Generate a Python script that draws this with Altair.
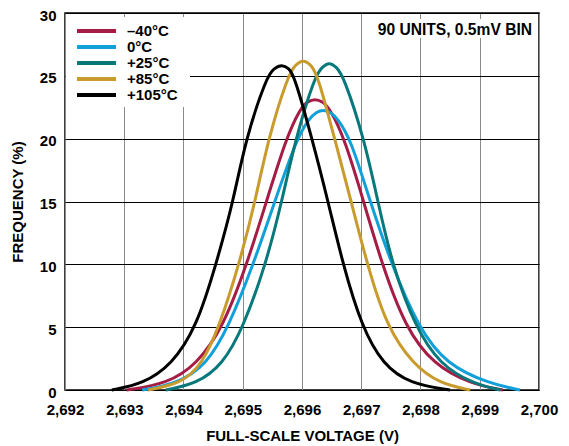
import altair as alt
import pandas as pd

# Series names and colours
series_names = ["\u2013" + "40°C", "0°C", "+25°C", "+85°C", "+105°C"]
legend_labels = ["\u00a0\u201340°C", "\u00a00°C", "+25°C", "+85°C", "+105°C"]
series_colors = ["#A51C45", "#12A0DA", "#08787A", "#C89B2C", "#000000"]

# Values: full-scale voltage (V) and frequency (%)
m40_x = [2.69304, 2.69372, 2.69422, 2.69467, 2.69507, 2.69540, 2.69573, 2.69597, 2.69610,
         2.69622, 2.69634, 2.69647, 2.69672, 2.69704, 2.69735, 2.69774, 2.69822, 2.69884,
         2.69939]
m40_y = [0, 0.5, 2, 5, 10, 15, 20, 22.4, 22.98, 23.15, 22.98, 22.4, 20, 15, 10, 5, 2, 0.5, 0]

c0_x = [2.69330, 2.69389, 2.69439, 2.69476, 2.69518, 2.69554, 2.69591, 2.69612, 2.69624,
        2.69636, 2.69648, 2.69660, 2.69682, 2.69715, 2.69751, 2.69796, 2.69844, 2.69917,
        2.69968]
c0_y = [0, 0.5, 2, 5, 10, 15, 20, 21.6, 22.12, 22.3, 22.12, 21.6, 20, 15, 10, 5, 2, 0.5, 0]

p25_x = [2.69370, 2.69422, 2.69466, 2.69501, 2.69539, 2.69566, 2.69589, 2.69622, 2.69634,
         2.69646, 2.69658, 2.69670, 2.69705, 2.69728, 2.69752, 2.69791, 2.69833, 2.69889,
         2.69935]
p25_y = [0, 0.5, 2, 5, 10, 15, 20, 25, 25.7, 26.1, 25.7, 25, 20, 15, 10, 5, 2, 0.5, 0]

p85_x = [2.69340, 2.69395, 2.69431, 2.69460, 2.69494, 2.69521, 2.69543, 2.69576, 2.69589,
         2.69602, 2.69615, 2.69627, 2.69655, 2.69683, 2.69710, 2.69743, 2.69788, 2.69833,
         2.69884]
p85_y = [0, 0.5, 2, 5, 10, 15, 20, 25, 25.9, 26.3, 25.9, 25, 20, 15, 10, 5, 2, 0.5, 0]

p105_x = [2.69279, 2.69332, 2.69380, 2.69422, 2.69455, 2.69484, 2.69505, 2.69541, 2.69553,
          2.69566, 2.69578, 2.69587, 2.69617, 2.69644, 2.69669, 2.69701, 2.69737, 2.69782,
          2.69850]
p105_y = [0, 0.5, 2, 5, 10, 15, 20, 25, 25.6, 25.9, 25.6, 25, 20, 15, 10, 5, 2, 0.5, 0]

x_ticks = [2.692, 2.693, 2.694, 2.695, 2.696, 2.697, 2.698, 2.699, 2.700]
y_ticks = [0, 5, 10, 15, 20, 25, 30]
annotation = "90 UNITS, 0.5mV BIN"

FONT = "Liberation Sans, Arial"

frames = []
for name, xs, ys in zip(series_names,
                        [m40_x, c0_x, p25_x, p85_x, p105_x],
                        [m40_y, c0_y, p25_y, p85_y, p105_y]):
    frames.append(pd.DataFrame({"series": name, "v": xs, "f": ys}))
df = pd.concat(frames, ignore_index=True)

color_scale = alt.Scale(domain=series_names, range=series_colors)

lines = alt.Chart(df).mark_line(strokeWidth=3, interpolate="basis").encode(
    x=alt.X("v:Q", scale=alt.Scale(domain=[2.692, 2.700], nice=False, zero=False),
            axis=alt.Axis(values=x_ticks, title="FULL-SCALE VOLTAGE (V)",
                          labelExpr="replace(format(datum.value, '.3f'), '.', ',')",
                          labelFlush=False, labelOverlap=False,
                          gridColor="#8a8a8a")),
    y=alt.Y("f:Q", scale=alt.Scale(domain=[0, 30], nice=False),
            axis=alt.Axis(values=y_ticks, title="FREQUENCY (%)", gridColor="#000000",
                          labelOffset=2, labelFlush=False)),
    color=alt.Color("series:N", scale=color_scale, legend=None),
    detail="series:N",
)

one = pd.DataFrame({"a": [0]})

legend_bg = alt.Chart(one).mark_rect(color="white").encode(
    x=alt.value(1), x2=alt.value(125), y=alt.value(4), y2=alt.value(94)
)

leg_df = pd.DataFrame({"series": series_names, "label": legend_labels})
leg_y = alt.Y("series:N", scale=alt.Scale(type="point", domain=series_names,
                                          range=[18, 82], padding=0), axis=None)

legend_rules = alt.Chart(leg_df).mark_rule(strokeWidth=4).encode(
    x=alt.value(12), x2=alt.value(51), y=leg_y,
    color=alt.Color("series:N", scale=color_scale, legend=None),
)
legend_text = alt.Chart(leg_df).mark_text(
    align="left", baseline="middle", font=FONT, fontSize=15, fontWeight="bold", color="black"
).encode(x=alt.value(62), y=leg_y, text="label:N")

ann_bg = alt.Chart(one).mark_rect(color="white").encode(
    x=alt.value(305), x2=alt.value(471), y=alt.value(6), y2=alt.value(25)
)
ann_text = alt.Chart(pd.DataFrame({"t": [annotation]})).mark_text(
    align="right", baseline="middle", font=FONT, fontSize=15.6, fontWeight="bold", color="black"
).encode(x=alt.value(467), y=alt.value(17), text="t:N")

chart = alt.layer(lines, legend_bg, legend_rules, legend_text, ann_bg, ann_text).resolve_scale(
    y="independent"
).properties(
    width=474, height=377,
    autosize=alt.AutoSizeParams(type="none"),
    padding={"left": 57, "top": 5, "right": 22, "bottom": 56},
).configure_view(
    stroke="black", strokeWidth=1.5
).configure_axis(
    labelFont=FONT, labelFontSize=15, labelFontWeight="bold", labelColor="black",
    titleFont=FONT, titleFontSize=15, titleFontWeight="bold", titleColor="black",
    ticks=False, tickSize=0, domain=False, grid=True, gridWidth=1, gridOpacity=1,
).configure_axisX(
    labelPadding=12, titlePadding=11,
).configure_axisY(
    labelPadding=9, titlePadding=14,
)

chart.save("out.html", embed_options={"renderer": "svg", "actions": False})
